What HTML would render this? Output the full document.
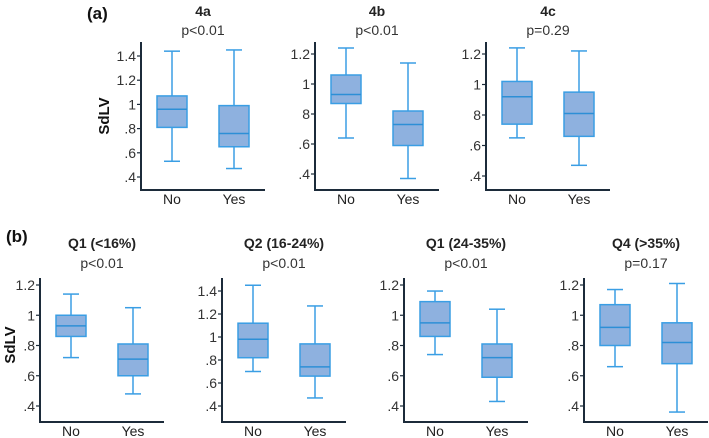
<!DOCTYPE html>
<html><head><meta charset="utf-8"><style>
html,body{margin:0;padding:0;background:#fff;}
svg{display:block;font-family:"Liberation Sans",sans-serif;}
</style></head><body>
<svg id="c" width="709" height="438" viewBox="0 0 709 438"></svg>
<script>
const panelTitles = ["4a","4b","4c","Q1 (<16%)","Q2 (16-24%)","Q1 (24-35%)","Q4 (>35%)"];
const panelPvals = ["p<0.01","p<0.01","p=0.29","p<0.01","p<0.01","p<0.01","p=0.17"];
const categories = ["No","Yes"];
// [whiskerLow, q1, median, q3, whiskerHigh]
const noStats = [
 [0.53,0.81,0.96,1.07,1.44],
 [0.64,0.87,0.93,1.06,1.24],
 [0.65,0.74,0.92,1.02,1.24],
 [0.72,0.86,0.93,1.00,1.14],
 [0.70,0.82,0.98,1.12,1.45],
 [0.74,0.86,0.95,1.09,1.16],
 [0.66,0.80,0.92,1.07,1.17]
];
const yesStats = [
 [0.47,0.65,0.76,0.99,1.45],
 [0.37,0.59,0.73,0.82,1.14],
 [0.47,0.66,0.81,0.95,1.22],
 [0.48,0.60,0.71,0.81,1.05],
 [0.47,0.66,0.74,0.94,1.27],
 [0.43,0.59,0.72,0.81,1.04],
 [0.36,0.68,0.82,0.95,1.21]
];
const tickValsA = [0.4,0.6,0.8,1,1.2,1.4];
const tickLabsA = [".4",".6",".8","1","1.2","1.4"];
const tickValsB = [0.4,0.6,0.8,1,1.2];
const tickLabsB = [".4",".6",".8","1","1.2"];
const tickLabsB8 = [".4",".6","8","1","1.2"];

const NS="http://www.w3.org/2000/svg";
const svg=document.getElementById('c');
function el(tag,attrs,parent){const e=document.createElementNS(NS,tag);for(const k in attrs)e.setAttribute(k,attrs[k]);(parent||svg).appendChild(e);return e;}

const layout=[
 {ax:141,by:190,ty:42,ty0:56,v0:1.4,ty1:177,v1:0.4,tv:tickValsA,tl:tickLabsA,titleY:16,pY:35},
 {ax:315,by:190,ty:42,ty0:54,v0:1.2,ty1:174,v1:0.4,tv:tickValsB,tl:tickLabsB8,titleY:16,pY:35},
 {ax:486,by:190,ty:42,ty0:54,v0:1.2,ty1:176,v1:0.4,tv:tickValsB,tl:tickLabsB8,titleY:16,pY:35},
 {ax:40,by:422,ty:278,ty0:285,v0:1.2,ty1:406,v1:0.4,tv:tickValsB,tl:tickLabsB,titleY:248,pY:268},
 {ax:222,by:422,ty:278,ty0:291,v0:1.4,ty1:406,v1:0.4,tv:tickValsA,tl:tickLabsA,titleY:248,pY:268},
 {ax:404,by:422,ty:278,ty0:285,v0:1.2,ty1:406,v1:0.4,tv:tickValsB,tl:tickLabsB,titleY:248,pY:268},
 {ax:584,by:422,ty:278,ty0:285,v0:1.2,ty1:406,v1:0.4,tv:tickValsB,tl:tickLabsB,titleY:248,pY:268}
];

let t=el('text',{x:87,y:19,'font-size':17,'font-weight':'bold',fill:'#111'});t.textContent='(a)';

t=el('text',{x:6,y:242,'font-size':17,'font-weight':'bold',fill:'#111'});t.textContent='(b)';

t=el('text',{x:0,y:0,'font-size':15,'font-weight':'bold',fill:'#111','text-anchor':'middle',transform:'translate(109,116) rotate(-90)'});t.textContent='SdLV';

t=el('text',{x:0,y:0,'font-size':15,'font-weight':'bold',fill:'#111','text-anchor':'middle',transform:'translate(15,345) rotate(-90)'});t.textContent='SdLV';


layout.forEach((L,i)=>{
  const g=el('g',{});
  
  
  const y=v=>L.ty1+(v-L.v1)*(L.ty0-L.ty1)/(L.v0-L.v1);
  const cx=[L.ax+31,L.ax+93];
  const mid=L.ax+62;
  let tt=el('text',{x:mid,y:L.titleY,'font-size':14,'font-weight':'bold',fill:'#222','text-anchor':'middle'},g);tt.textContent=panelTitles[i];
  
  tt=el('text',{x:mid,y:L.pY,'font-size':14,fill:'#333','text-anchor':'middle'},g);tt.textContent=panelPvals[i];
  
  [noStats[i],yesStats[i]].forEach((s,j)=>{
    const c=cx[j], w=15, cap=8;
    const bg=el('g',{},g);
    
    
    el('line',{x1:c,x2:c,y1:y(s[0]),y2:y(s[4]),stroke:'#3a9ee4','stroke-width':1.5},bg);
    el('line',{x1:c-cap,x2:c+cap,y1:y(s[4]),y2:y(s[4]),stroke:'#3a9ee4','stroke-width':1.5},bg);
    el('line',{x1:c-cap,x2:c+cap,y1:y(s[0]),y2:y(s[0]),stroke:'#3a9ee4','stroke-width':1.5},bg);
    el('rect',{x:c-w,y:y(s[3]),width:2*w,height:y(s[1])-y(s[3]),fill:'#8eb1df',stroke:'#3a9ee4','stroke-width':1.5},bg);
    el('line',{x1:c-w,x2:c+w,y1:y(s[2]),y2:y(s[2]),stroke:'#2d8fd6','stroke-width':1.5},bg);
    const xl=el('text',{x:c,y:L.by+14,'font-size':14,fill:'#222','text-anchor':'middle'},g);xl.textContent=categories[j];
    
  });
  L.tv.forEach((v,k)=>{
    el('line',{x1:L.ax-4,x2:L.ax,y1:y(v),y2:y(v),stroke:'#1c2b3a','stroke-width':1.2},g);
    const tl=el('text',{x:L.ax-5,y:y(v)+5,'font-size':14,fill:'#333','text-anchor':'end'},g);tl.textContent=L.tl[k];
    
  });
  const a=el('path',{d:`M${L.ax},${L.ty} V${L.by} H${L.ax+124}`,fill:'none',stroke:'#1c2b3a','stroke-width':2},g);
  
});
</script>
</body></html>
